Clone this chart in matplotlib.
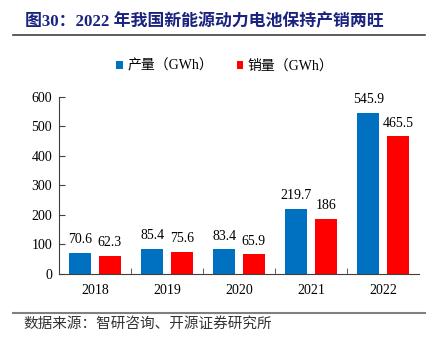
import numpy as np
import matplotlib.pyplot as plt

years = ['2018', '2019', '2020', '2021', '2022']
production = [70.6, 85.4, 83.4, 219.7, 545.9]
sales = [62.3, 75.6, 65.9, 186, 465.5]
prod_labels = ['70.6', '85.4', '83.4', '219.7', '545.9']
sales_labels = ['62.3', '75.6', '65.9', '186', '465.5']

fonts = ['Liberation Serif', 'Noto Sans CJK SC']
plt.rcParams['font.family'] = fonts

fig = plt.figure(figsize=(4.37, 3.42), dpi=100)
ax = fig.add_axes([0.135, 0.199, 0.824, 0.518])

x = np.arange(len(years))
w = 0.31
off = 0.205
b1 = ax.bar(x - off, production, w, color='#0070C0', label='产量（GWh）')
b2 = ax.bar(x + off, sales, w, color='#FF0000', label='销量（GWh）')

# value labels above the bars
for i in range(len(years)):
    ax.annotate(prod_labels[i], (x[i] - off, production[i]), xytext=(0, 7),
                textcoords='offset points', ha='center', va='baseline', fontsize=10)
    ax.annotate(sales_labels[i], (x[i] + off, sales[i]), xytext=(0, 7),
                textcoords='offset points', ha='center', va='baseline', fontsize=10)

ax.set_xlim(-0.5, 4.5)
ax.set_ylim(0, 600)
ax.set_yticks(range(0, 601, 100))
ax.set_xticks(x)
ax.set_xticklabels(years)
ax.set_xticks(np.arange(0.5, 4.5, 1), minor=True)
ax.tick_params(axis='x', which='major', length=0, labelsize=10, pad=7)
ax.tick_params(axis='x', which='minor', length=4, direction='in', color='#404040')
ax.tick_params(axis='y', length=4, direction='in', labelsize=10, color='#404040', pad=5)
for s in ['top', 'right']:
    ax.spines[s].set_visible(False)
ax.spines['left'].set_color('#404040')
ax.spines['bottom'].set_color('#404040')

fig.legend(handles=[b1, b2], loc='center', bbox_to_anchor=(0.515, 0.807), ncol=2,
           frameon=False, fontsize=10, handlelength=0.45, handleheight=0.45,
           handletextpad=0.35, columnspacing=1.7)

fig.text(0.057, 0.935, '图30：2022 年我国新能源动力电池保持产销两旺', fontsize=12.2,
         fontweight='bold', color='#1A237E', va='center', ha='left')
fig.add_artist(plt.Line2D([0.03, 0.973], [0.897, 0.897], color='#404040', lw=1.2))
fig.add_artist(plt.Line2D([0.03, 0.973], [0.085, 0.085], color='#808080', lw=1.5))
fig.text(0.053, 0.052, '数据来源：智研咨询、开源证券研究所', fontsize=10.5, color='#333333',
         va='center', ha='left')

fig.savefig('out.png', dpi=100)
